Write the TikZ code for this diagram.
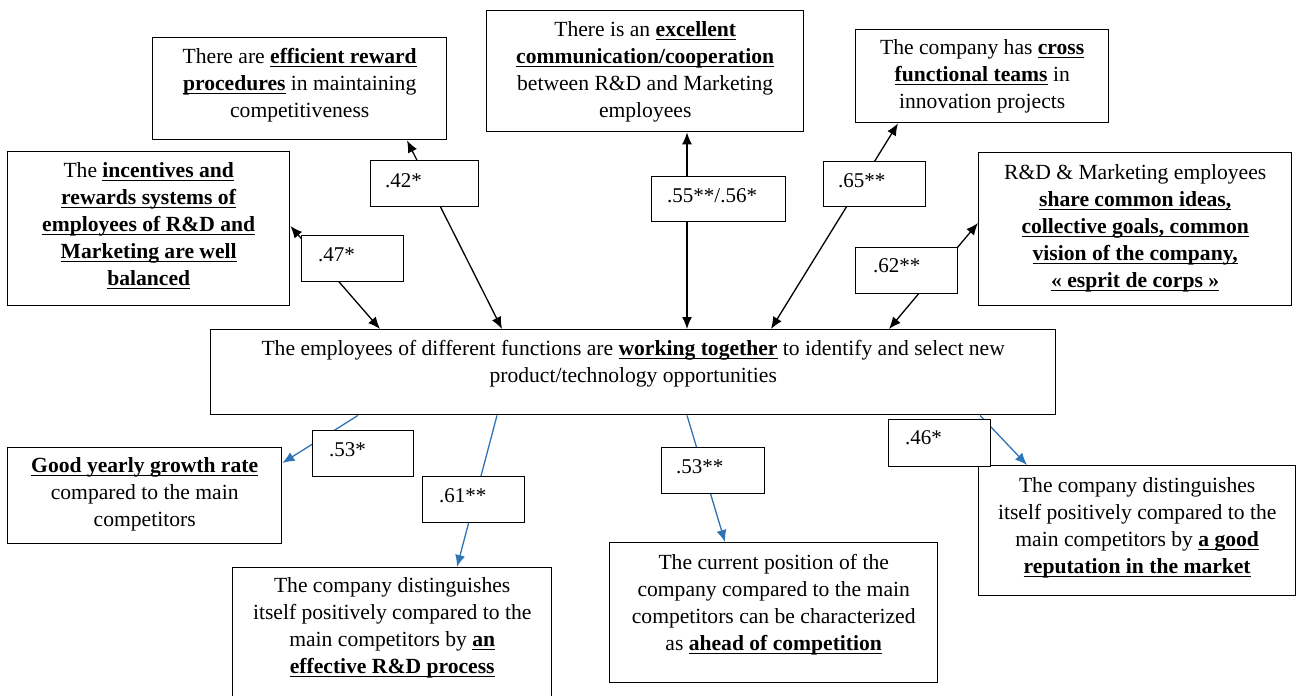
\documentclass[tikz,border=0pt]{standalone}
\usepackage{fontspec}
\setmainfont{Liberation Serif}
\usetikzlibrary{arrows.meta,calc}
\definecolor{lnk}{RGB}{46,117,182}
\newcommand{\ub}[1]{\leavevmode\setbox0\hbox{\textbf{#1}}\dp0=0pt\vtop{\copy0\kern2.6pt\hrule height 1.2pt}}
\begin{document}
\begin{tikzpicture}[x=1pt,y=-1pt,
 box/.style={draw, line width=1.4pt, anchor=north west, inner sep=0pt},
 txt/.style={anchor=north, align=center, font=\fontsize{21.6}{27}\selectfont, inner sep=0pt},
 lab/.style={draw, line width=1.4pt, fill=white, anchor=north west, inner sep=0pt},
 labt/.style={anchor=west, font=\fontsize{21}{25}\selectfont, inner sep=0pt},
 biarr/.style={{Latex[length=12pt,width=10pt]}-{Latex[length=12pt,width=10pt]}, line width=1.3pt},
 bluearr/.style={-{Latex[length=12pt,width=10pt]}, draw=lnk, line width=1.3pt}]
\useasboundingbox[fill=white] (0,0) rectangle (1296,696);
\clip (0,0) rectangle (1296,696);
% main boxes
\node[box, minimum width=294pt, minimum height=102pt] (b1) at (152,37) {};
\node[box, minimum width=282pt, minimum height=154pt] (b2) at (7,151) {};
\node[box, minimum width=317pt, minimum height=121pt] (b3) at (486,10) {};
\node[box, minimum width=253pt, minimum height=93pt] (b4) at (855,29) {};
\node[box, minimum width=313pt, minimum height=153pt] (b5) at (978,152) {};
\node[box, minimum width=845pt, minimum height=85pt] (c) at (210,329) {};
\node[box, minimum width=274pt, minimum height=96pt] (g) at (7,447) {};
\node[box, minimum width=319pt, minimum height=145pt] (rd) at (232,567) {};
\node[box, minimum width=328pt, minimum height=140pt] (ah) at (609,542) {};
\node[box, minimum width=317pt, minimum height=130pt] (rep) at (978,465) {};
% texts
\node[txt] (t1) at ([yshift=-11pt]b1.north) {There are \ub{efficient reward}\\\ub{procedures} in maintaining\\competitiveness};
\node[txt] (t2) at ([yshift=-11pt]b2.north) {The \ub{incentives and}\\\ub{rewards systems of}\\\ub{employees of R\&D and}\\\ub{Marketing are well}\\\ub{balanced}};
\node[txt] (t3) at ([yshift=-11pt]b3.north) {There is an \ub{excellent}\\\ub{communication/cooperation}\\between R\&D and Marketing\\employees};
\node[txt] (t4) at ([yshift=-10pt]b4.north) {The company has \ub{cross}\\\ub{functional teams} in\\innovation projects};
\node[txt] (t5) at ([yshift=-12pt]b5.north) {R\&D \& Marketing employees\\\ub{share common ideas,}\\\ub{collective goals, common}\\\ub{vision of the company,}\\\ub{« esprit de corps »}};
\node[txt] (tc) at ([yshift=-11pt]c.north) {The employees of different functions are \ub{working together} to identify and select new\\product/technology opportunities};
\node[txt] (tg) at ([yshift=-10pt]g.north) {\ub{Good yearly growth rate}\\compared to the main\\competitors};
\node[txt] (trd) at ([yshift=-10pt]rd.north) {The company distinguishes\\itself positively compared to the\\main competitors by \ub{an}\\\ub{effective R\&D process}};
\node[txt] (tah) at ([yshift=-12pt]ah.north) {The current position of the\\company compared to the main\\competitors can be characterized\\as \ub{ahead of competition}};
\node[txt] (trep) at ([yshift=-12pt]rep.north) {The company distinguishes\\itself positively compared to the\\main competitors by \ub{a good}\\\ub{reputation in the market}};
% connectors
\draw[biarr] ([xshift=292pt]c.north west) -- ([xshift=255pt]b1.south west);
\draw[biarr] ([xshift=170pt]c.north west) -- ([yshift=-75pt]b2.north east);
\draw[biarr] ([xshift=477pt]c.north west) -- ([xshift=201pt]b3.south west);
\draw[biarr] ([xshift=561pt]c.north west) -- ([xshift=43pt]b4.south west);
\draw[biarr] ([xshift=679pt]c.north west) -- ([yshift=-71pt]b5.north west);
\draw[bluearr] ([xshift=148pt]c.south west) -- ([yshift=-16pt]g.north east);
\draw[bluearr] ([xshift=287pt]c.south west) -- ([xshift=225pt]rd.north west);
\draw[bluearr] ([xshift=477pt]c.south west) -- ([xshift=116pt]ah.north west);
\draw[bluearr] ([xshift=770pt]c.south west) -- ([xshift=49pt]rep.north west);
% labels
\node[lab, minimum width=108pt, minimum height=46pt] (l42) at (370,160) {};
\node[labt] at ([xshift=15pt,yshift=-21pt]l42.north west) {.42*};
\node[lab, minimum width=102pt, minimum height=46pt] (l47) at (301,235) {};
\node[labt] at ([xshift=17pt,yshift=-20pt]l47.north west) {.47*};
\node[lab, minimum width=134pt, minimum height=45pt] (l55) at (651,176) {};
\node[labt] at ([xshift=16pt,yshift=-20pt]l55.north west) {.55**/.56*};
\node[lab, minimum width=102pt, minimum height=45pt] (l65) at (823,161) {};
\node[labt] at ([xshift=15pt,yshift=-20pt]l65.north west) {.65**};
\node[lab, minimum width=102pt, minimum height=46pt] (l62) at (855,247) {};
\node[labt] at ([xshift=18pt,yshift=-19pt]l62.north west) {.62**};
\node[lab, minimum width=101pt, minimum height=46pt] (l53a) at (312,430) {};
\node[labt] at ([xshift=17pt,yshift=-20pt]l53a.north west) {.53*};
\node[lab, minimum width=102pt, minimum height=46pt] (l61) at (422,476) {};
\node[labt] at ([xshift=17pt,yshift=-20pt]l61.north west) {.61**};
\node[lab, minimum width=103pt, minimum height=46pt] (l53b) at (661,447) {};
\node[labt] at ([xshift=15pt,yshift=-20pt]l53b.north west) {.53**};
\node[lab, minimum width=102pt, minimum height=47pt] (l46) at (888,419) {};
\node[labt] at ([xshift=17pt,yshift=-19pt]l46.north west) {.46*};
\end{tikzpicture}
\end{document}
